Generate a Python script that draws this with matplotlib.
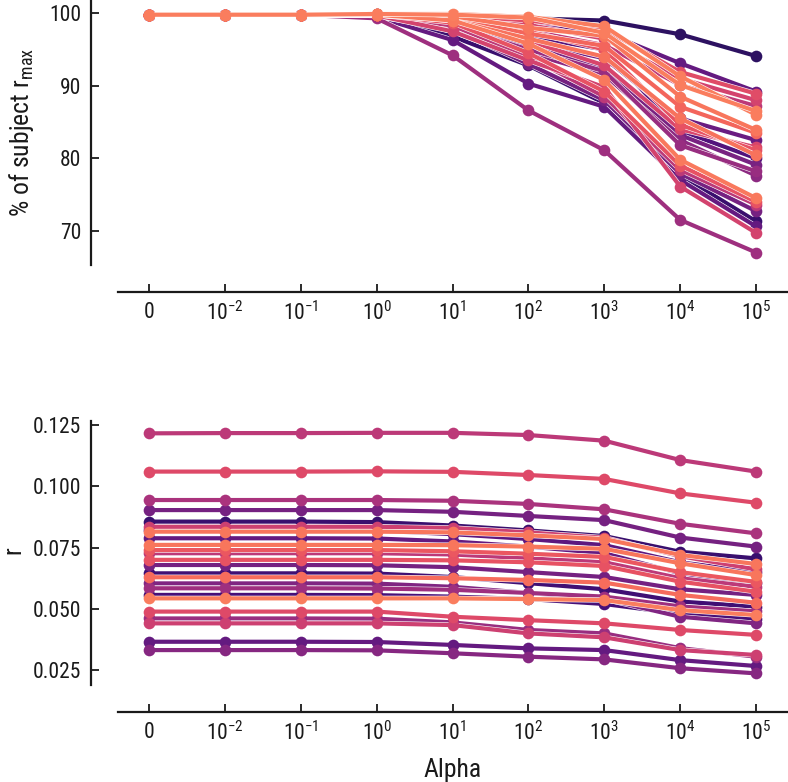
import matplotlib
matplotlib.use("Agg")
import matplotlib.pyplot as plt
import matplotlib.patheffects as pe
import numpy as np

# ---------------- data ----------------
alpha_labels = ["0", "$10^{-2}$", "$10^{-1}$", "$10^{0}$", "$10^{1}$",
                "$10^{2}$", "$10^{3}$", "$10^{4}$", "$10^{5}$"]

# top panel: % of subject r_max, one list per subject, plus its shade (0=dark, 1=light)
pct_shade = [0.15, 0.30, 0.66, 0.62, 0.55, 0.80, 0.78, 0.74, 0.32, 0.68, 0.77, 0.36, 0.45,
             0.42, 0.79, 0.68, 0.55, 0.35, 0.18, 0.30, 0.62, 0.47, 0.80, 0.25, 0.63]
pct_values = [
    [99.8, 99.8, 99.8, 99.9, 99.6, 99.3, 99.0, 97.1, 94.1],
    [99.8, 99.8, 99.8, 99.8, 99.5, 98.6, 97.4, 93.1, 89.2],
    [99.8, 99.8, 99.8, 99.9, 99.7, 99.0, 97.8, 91.9, 88.9],
    [99.8, 99.8, 99.8, 99.8, 99.6, 98.4, 96.5, 91.0, 88.0],
    [99.8, 99.8, 99.8, 99.7, 99.3, 97.6, 95.6, 90.1, 87.2],
    [99.8, 99.8, 99.8, 99.9, 99.9, 99.5, 98.2, 91.3, 86.0],
    [99.8, 99.8, 99.8, 99.9, 99.6, 98.0, 96.9, 88.5, 83.9],
    [99.8, 99.8, 99.8, 99.8, 99.2, 97.2, 95.5, 87.1, 83.5],
    [99.8, 99.8, 99.8, 99.7, 98.8, 96.0, 93.8, 85.5, 82.5],
    [99.8, 99.8, 99.8, 99.8, 99.3, 97.5, 95.0, 84.6, 81.1],
    [99.8, 99.8, 99.8, 99.8, 99.0, 96.5, 94.0, 85.5, 80.4],
    [99.8, 99.8, 99.8, 99.7, 98.5, 95.5, 92.4, 83.2, 79.1],
    [99.8, 99.8, 99.8, 99.7, 98.2, 95.0, 92.0, 81.8, 78.2],
    [99.8, 99.8, 99.8, 99.6, 98.0, 94.5, 91.5, 82.5, 77.6],
    [99.8, 99.8, 99.8, 99.8, 99.0, 95.8, 90.8, 79.8, 74.5],
    [99.8, 99.8, 99.8, 99.8, 98.7, 94.5, 89.2, 79.0, 74.0],
    [99.8, 99.8, 99.8, 99.7, 98.3, 94.0, 88.5, 78.4, 73.6],
    [99.8, 99.8, 99.8, 99.6, 97.8, 93.0, 88.0, 77.9, 72.7],
    [99.8, 99.8, 99.8, 99.6, 96.8, 92.8, 87.6, 77.7, 71.3],
    [99.8, 99.8, 99.8, 99.5, 96.3, 90.3, 87.1, 77.0, 70.6],
    [99.8, 99.8, 99.8, 99.7, 97.5, 93.5, 89.8, 76.1, 69.7],
    [99.8, 99.8, 99.8, 99.3, 94.2, 86.6, 81.1, 71.5, 67.0],
    [99.8, 99.8, 99.8, 99.9, 99.8, 99.4, 97.3, 90.1, 86.5],
    [99.8, 99.8, 99.8, 99.7, 99.0, 96.8, 95.0, 83.8, 80.0],
    [99.8, 99.8, 99.8, 99.8, 98.9, 96.2, 92.8, 84.0, 81.5],
]

# bottom panel: r per subject
r_shade = [0.55, 0.65, 0.50, 0.35, 0.18, 0.60, 0.78, 0.30, 0.78, 0.55, 0.68, 0.35, 0.20,
           0.76, 0.38, 0.47, 0.22, 0.80, 0.65, 0.45, 0.60, 0.30, 0.40, 0.28, 0.70]
r_values = [
    [0.1216, 0.1217, 0.1217, 0.1218, 0.1218, 0.1209, 0.1186, 0.1107, 0.1060],
    [0.1060, 0.1060, 0.1060, 0.1061, 0.1059, 0.1046, 0.1030, 0.0971, 0.0933],
    [0.0944, 0.0944, 0.0944, 0.0944, 0.0941, 0.0928, 0.0906, 0.0847, 0.0808],
    [0.0903, 0.0903, 0.0903, 0.0903, 0.0896, 0.0879, 0.0862, 0.0791, 0.0754],
    [0.0856, 0.0856, 0.0856, 0.0854, 0.0840, 0.0820, 0.0797, 0.0733, 0.0706],
    [0.0835, 0.0835, 0.0835, 0.0835, 0.0830, 0.0812, 0.0790, 0.0715, 0.0661],
    [0.0815, 0.0815, 0.0815, 0.0815, 0.0812, 0.0800, 0.0785, 0.0720, 0.0683],
    [0.0788, 0.0788, 0.0788, 0.0787, 0.0775, 0.0754, 0.0727, 0.0645, 0.0604],
    [0.0761, 0.0761, 0.0761, 0.0761, 0.0760, 0.0754, 0.0745, 0.0686, 0.0638],
    [0.0727, 0.0727, 0.0727, 0.0727, 0.0722, 0.0706, 0.0690, 0.0625, 0.0590],
    [0.0700, 0.0700, 0.0700, 0.0700, 0.0698, 0.0690, 0.0675, 0.0611, 0.0570],
    [0.0679, 0.0679, 0.0679, 0.0678, 0.0670, 0.0650, 0.0630, 0.0580, 0.0557],
    [0.0645, 0.0645, 0.0645, 0.0644, 0.0630, 0.0605, 0.0580, 0.0530, 0.0509],
    [0.0629, 0.0629, 0.0629, 0.0629, 0.0625, 0.0618, 0.0607, 0.0557, 0.0525],
    [0.0604, 0.0604, 0.0604, 0.0603, 0.0590, 0.0565, 0.0540, 0.0468, 0.0441],
    [0.0584, 0.0584, 0.0584, 0.0583, 0.0578, 0.0565, 0.0550, 0.0510, 0.0490],
    [0.0557, 0.0557, 0.0557, 0.0556, 0.0550, 0.0540, 0.0520, 0.0480, 0.0460],
    [0.0543, 0.0543, 0.0543, 0.0543, 0.0543, 0.0540, 0.0536, 0.0495, 0.0475],
    [0.0489, 0.0489, 0.0489, 0.0489, 0.0468, 0.0454, 0.0441, 0.0414, 0.0394],
    [0.0461, 0.0461, 0.0461, 0.0460, 0.0445, 0.0414, 0.0400, 0.0340, 0.0305],
    [0.0441, 0.0441, 0.0441, 0.0441, 0.0434, 0.0400, 0.0384, 0.0332, 0.0312],
    [0.0366, 0.0366, 0.0366, 0.0365, 0.0353, 0.0339, 0.0332, 0.0291, 0.0267],
    [0.0332, 0.0332, 0.0332, 0.0331, 0.0319, 0.0305, 0.0294, 0.0258, 0.0237],
    [0.0820, 0.0820, 0.0820, 0.0819, 0.0805, 0.0785, 0.0760, 0.0690, 0.0650],
    [0.0740, 0.0740, 0.0740, 0.0740, 0.0735, 0.0725, 0.0712, 0.0650, 0.0610],
]

# ---------------- style ----------------
FONT = ["Roboto Condensed", "Liberation Sans Narrow", "Roboto", "DejaVu Sans"]
plt.rcParams["font.family"] = FONT
plt.rcParams["mathtext.fontset"] = "custom"
plt.rcParams["mathtext.rm"] = "Roboto Condensed"
plt.rcParams["mathtext.it"] = "Roboto Condensed:italic"
plt.rcParams["mathtext.bf"] = "Roboto Condensed:bold"
plt.rcParams["axes.unicode_minus"] = True

cmap = plt.get_cmap("magma")


def shade_color(s):
    return cmap(0.17 + (s - 0.15) * 0.86)


W, H = 788, 782
fig = plt.figure(figsize=(W / 100, H / 100), dpi=100)

ax_top = fig.add_axes([118 / W, 1 - 265 / H, 670 / W, 265 / H])
ax_bot = fig.add_axes([118 / W, 1 - 685 / H, 670 / W, 264 / H])

x = np.arange(len(alpha_labels))
LW = 3.0
MS = 8.4
stroke = [pe.Stroke(linewidth=LW + 0.8, foreground="white"), pe.Normal()]


def draw(ax, shades, values):
    order = np.argsort(shades, kind="stable")
    for i in order:
        c = shade_color(shades[i])
        ax.plot(x, values[i], "-", color=c, lw=LW, path_effects=stroke,
                solid_capstyle="round")
        ax.plot(x, values[i], "o", color=c, ms=MS, mec=c, mew=0)


draw(ax_top, pct_shade, pct_values)
draw(ax_bot, r_shade, r_values)

ax_top.set_ylim(65.28, 101.83)
ax_top.set_yticks([70, 80, 90, 100])
ax_bot.set_ylim(0.01896, 0.12663)
ax_bot.set_yticks([0.025, 0.050, 0.075, 0.100, 0.125])
ax_bot.set_yticklabels(["0.025", "0.050", "0.075", "0.100", "0.125"])

offset_pt = 27 * 72 / 100
for ax in (ax_top, ax_bot):
    ax.set_xlim(-0.408, 8.42)
    ax.set_xticks(x)
    ax.set_xticklabels(alpha_labels)
    for side in ("top", "right"):
        ax.spines[side].set_visible(False)
    for side in ("left", "bottom"):
        ax.spines[side].set_position(("outward", offset_pt))
        ax.spines[side].set_linewidth(1.6)
        ax.spines[side].set_color("#1a1a1a")
    ax.tick_params(direction="in", length=6, width=1.3, labelsize=15.5,
                   colors="#1a1a1a", pad=7)
    ax.patch.set_visible(False)

ax_top.set_ylabel("% of subject r$_{\\mathrm{max}}$", fontsize=18.5, color="#1a1a1a")
ax_top.yaxis.set_label_coords(-0.122, 0.5)
ax_bot.set_ylabel("r", fontsize=18.5, color="#1a1a1a")
ax_bot.yaxis.set_label_coords(-0.138, 0.51)
ax_bot.set_xlabel("Alpha", fontsize=18.5, color="#1a1a1a", labelpad=9)

fig.savefig("out.png", dpi=100)
